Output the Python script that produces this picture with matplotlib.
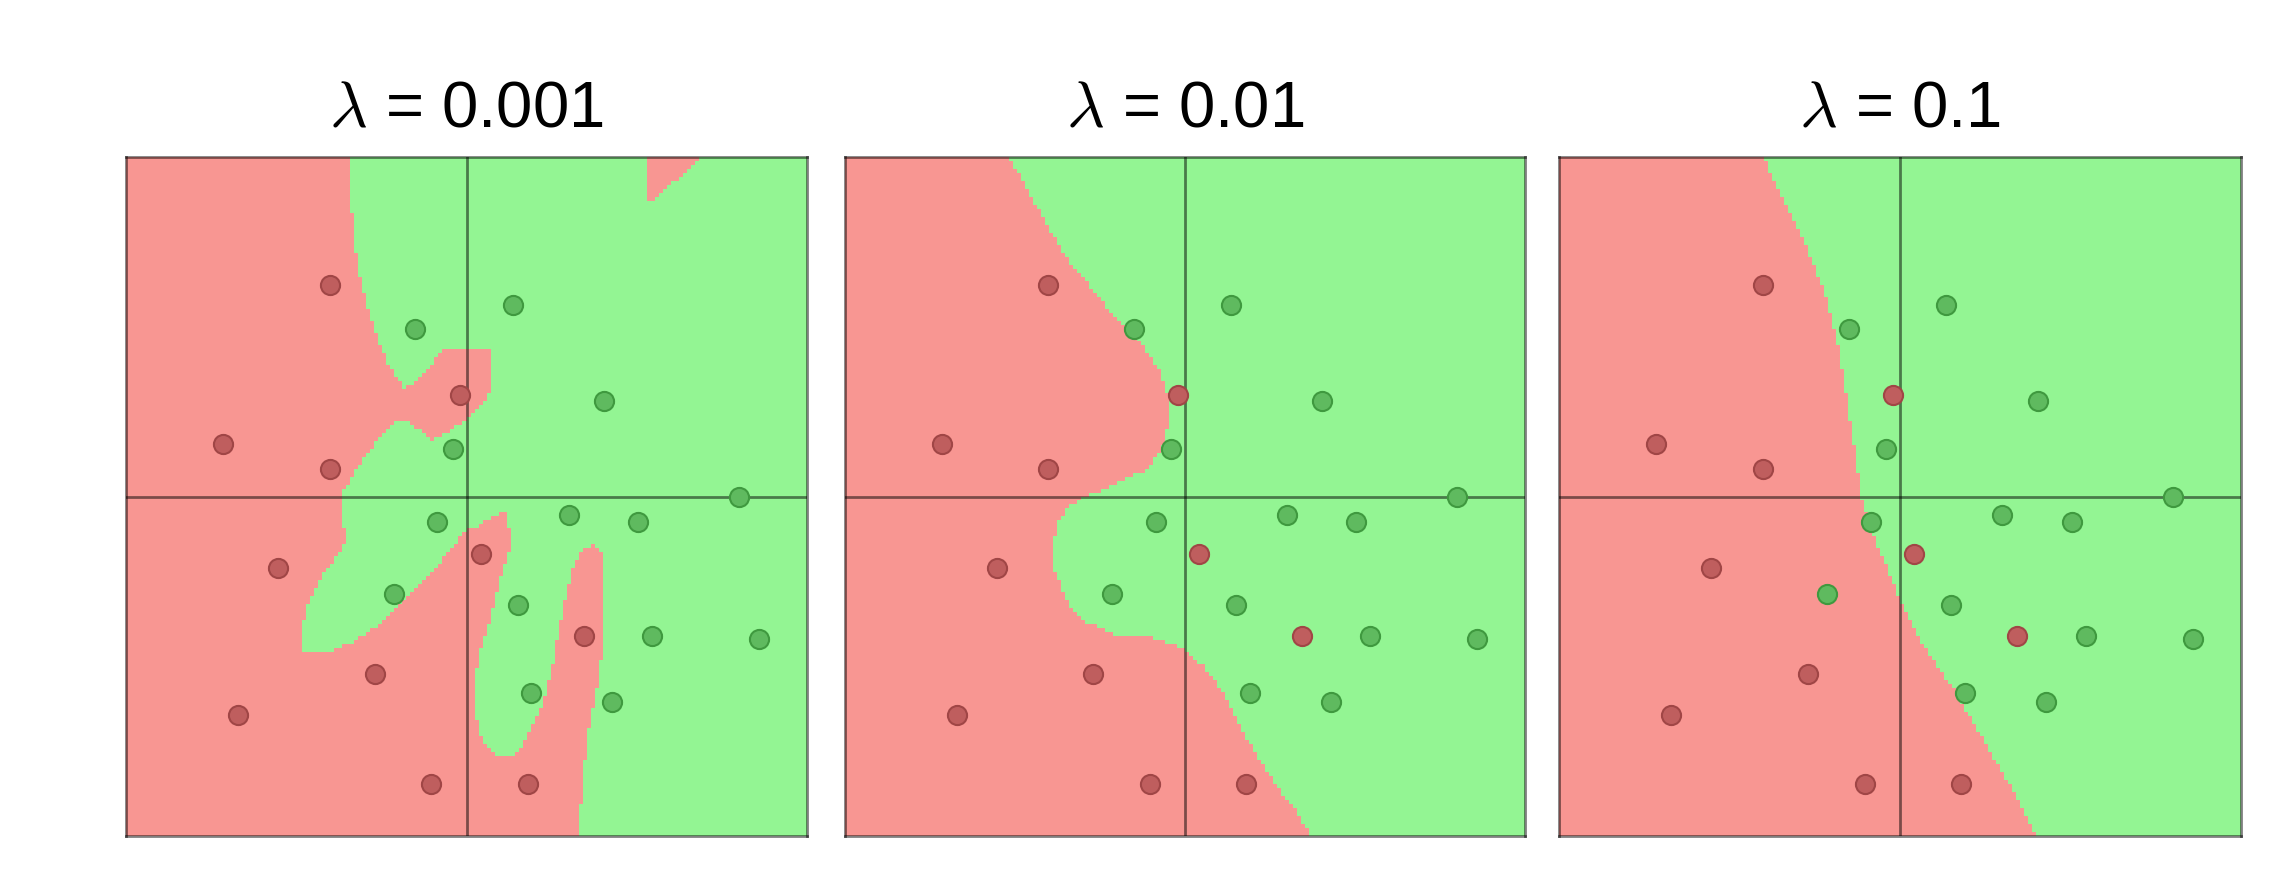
import numpy as np
import matplotlib
matplotlib.use("Agg")
import matplotlib.pyplot as plt
from matplotlib.path import Path
from matplotlib.colors import ListedColormap

plt.rcParams['font.family'] = ['Liberation Sans', 'DejaVu Sans']
plt.rcParams['mathtext.fontset'] = 'cm'

# training points (same in every panel)
red_x = [-2.01, -3.58, -2.01, -0.10, -2.77, 0.21, -1.35, -3.36, -0.52, 0.90, 1.72]
red_y = [3.12, 0.77, 0.40, 1.49, -1.05, -0.85, -2.62, -3.22, -4.23, -4.23, -2.05]
green_x = [-0.75, 0.68, 2.02, -0.20, -0.43, 1.50, 2.52, 4.00, -1.07, 0.75, 2.72, 4.29, 0.95, 2.14]
green_y = [2.47, 2.82, 1.40, 0.70, -0.38, -0.27, -0.38, 0.00, -1.44, -1.60, -2.05, -2.10, -2.89, -3.02]

titles = [r"$\lambda$ = 0.001", r"$\lambda$ = 0.01", r"$\lambda$ = 0.1"]

# red decision regions
p1_main_x = [-5, -1.73, -1.70, -1.59, -1.45, -1.34, -1.14, -0.92, -0.80, -0.55, -0.36, 0.03, 0.33, 0.38,
             0.35, 0.23, 0.03, -0.26, -0.50, -0.65, -0.94, -1.19, -1.43, -1.63, -1.80, -1.85, -1.83,
             -1.73, -1.75, -1.92, -2.12, -2.32, -2.44, -2.44, -2.02, -1.63, -1.34, -0.99, -0.65, -0.36,
             -0.16, -0.01, 0.13, 0.33, 0.60, 0.62, 0.62, 0.52, 0.43, 0.33, 0.21, 0.11, 0.13, 0.23, 0.38,
             0.72, 0.82, 0.92, 1.11, 1.26, 1.40, 1.55, 1.70, 1.85, 1.97, 1.99, 1.99, 1.91, 1.78, 1.70,
             1.64, -5]
p1_main_y = [5, 5, 4.37, 3.34, 2.79, 2.44, 1.95, 1.61, 1.65, 1.90, 2.15, 2.19, 2.15, 1.95,
             1.61, 1.36, 1.16, 0.97, 0.84, 0.97, 1.16, 0.97, 0.67, 0.38, 0.08, -0.21, -0.41,
             -0.51, -0.65, -0.90, -1.19, -1.59, -2.08, -2.27, -2.30, -2.13, -1.93, -1.63, -1.29, -0.95,
             -0.70, -0.51, -0.46, -0.33, -0.21, -0.51, -0.80, -1.09, -1.49, -1.88, -2.22, -2.71, -3.21,
             -3.60, -3.79, -3.82, -3.65, -3.45, -3.06, -2.47, -1.73, -1.09, -0.80, -0.73, -0.80, -1.29,
             -2.27, -2.82, -3.51, -4.19, -5.0, -5]
p1_top_x = [2.66, 3.47, 3.05, 2.73, 2.66]
p1_top_y = [5, 5, 4.64, 4.34, 4.37]

p2_x = [-5, -2.59, -2.38, -2.05, -1.71, -1.37, -1.04, -0.63, -0.36, -0.23, -0.23, -0.33, -0.56, -0.90,
        -1.17, -1.44, -1.71, -1.88, -1.95, -1.91, -1.71, -1.44, -1.04, -0.50, -0.09, 0.25, 0.52, 0.72,
        0.92, 1.12, 1.39, 1.66, 1.86, -5]
p2_y = [5, 5, 4.64, 4.03, 3.48, 3.07, 2.66, 2.25, 1.84, 1.42, 1.15, 0.74, 0.40, 0.26,
        0.12, 0.02, -0.15, -0.42, -0.77, -1.11, -1.59, -1.86, -2.03, -2.07, -2.21, -2.48, -2.82, -3.23,
        -3.58, -3.92, -4.33, -4.67, -5.0, -5]

p3_x = [-5, -2.01, -1.71, -1.37, -1.10, -0.90, -0.70, -0.56, -0.36, -0.02, 0.31, 0.79, 1.19, 1.59, 2.00, -5]
p3_y = [5, 5, 4.35, 3.66, 2.98, 2.16, 0.92, -0.03, -0.65, -1.47, -2.16, -2.84, -3.53, -4.21, -5.0, -5]

regions = [
    [(p1_main_x, p1_main_y), (p1_top_x, p1_top_y)],
    [(p2_x, p2_y)],
    [(p3_x, p3_y)],
]

cmap = ListedColormap(["#93f593", "#f89692"])
edges = np.linspace(-5, 5, 171)
centers = (edges[:-1] + edges[1:]) / 2
gx, gy = np.meshgrid(centers, centers)
grid_pts = np.column_stack([gx.ravel(), gy.ravel()])

fig = plt.figure(figsize=(22.94, 8.94), dpi=100)
lefts = [126, 845, 1559]
widths = [681, 680, 682]

for i in range(3):
    ax = fig.add_axes([lefts[i] / 2294, 1 - 836 / 894, widths[i] / 2294, 679 / 894])
    cls = np.zeros(len(grid_pts), dtype=bool)
    for xs, ys in regions[i]:
        cls |= Path(np.column_stack([xs, ys])).contains_points(grid_pts)
    ax.pcolormesh(edges, edges, cls.reshape(gx.shape).astype(float), cmap=cmap, vmin=0, vmax=1)
    ax.axhline(0, color="black", alpha=0.5, lw=2)
    ax.axvline(0, color="black", alpha=0.5, lw=2)
    ax.scatter(red_x, red_y, s=190, c="#bf5e5e", edgecolors="#a04646", linewidths=1.5, zorder=3)
    ax.scatter(green_x, green_y, s=190, c="#5fba5f", edgecolors="#3f993f", linewidths=1.5, zorder=3)
    ax.set_xlim(-5, 5)
    ax.set_ylim(-5, 5)
    ax.set_xticks([])
    ax.set_yticks([])
    for sp in ax.spines.values():
        sp.set_color((0, 0, 0, 0.5))
        sp.set_linewidth(2)
    ax.set_title(titles[i], fontsize=47, pad=22)

fig.savefig("out.png", dpi=100)
